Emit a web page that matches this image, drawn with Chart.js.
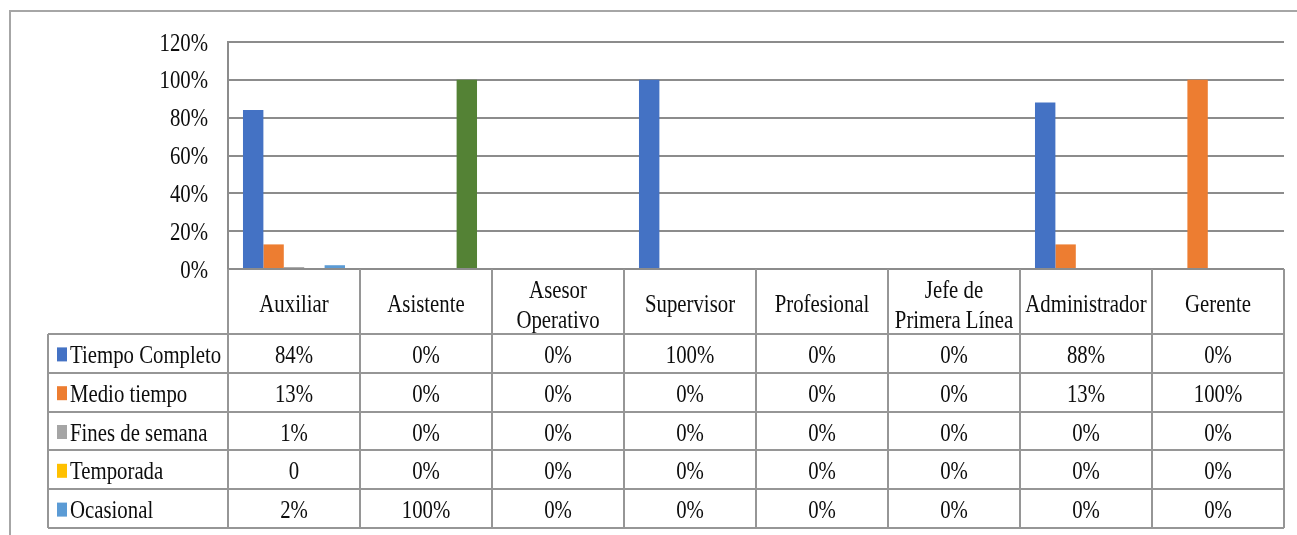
<!DOCTYPE html>
<html>
<head>
<meta charset="utf-8">
<script src="https://cdn.jsdelivr.net/npm/chart.js@4.4.1/dist/chart.umd.min.js"></script>
<style>
    html, body { margin: 0; padding: 0; background: #ffffff; }
    canvas { display: block; }
</style>
</head>
<body>
<canvas id="grafico" width="1297" height="535"></canvas>
<script>
// Cargos (categorías)
const cargos = ['Auxiliar', 'Asistente', ['Asesor', 'Operativo'], 'Supervisor', 'Profesional',
    ['Jefe de', 'Primera Línea'], 'Administrador', 'Gerente'];

// Series (%)
const tiempoCompleto = [84, 0, 0, 100, 0, 0, 88, 0];
const medioTiempo = [13, 0, 0, 0, 0, 0, 13, 100];
const finesSemana = [1, 0, 0, 0, 0, 0, 0, 0];
const temporada = [0, 0, 0, 0, 0, 0, 0, 0];
const ocasional = [2, 100, 0, 0, 0, 0, 0, 0];

const nombresSeries = ['Tiempo Completo', 'Medio tiempo', 'Fines de semana', 'Temporada', 'Ocasional'];
const coloresSeries = ['#4472C4', '#ED7D31', '#A5A5A5', '#FFC000', '#5B9BD5'];

// Ticks del eje Y
const ticksY = [0, 20, 40, 60, 80, 100, 120];

const FUENTE = '20.8px "Liberation Serif", "Times New Roman", serif';
const ESTIRAR = 1.2; // el texto del original está estirado verticalmente
const BAJAR = 2;     // pequeño ajuste vertical del texto

function textoEstirado(ctx, txt, x, y, align) {
    ctx.save();
    ctx.translate(x, y + BAJAR);
    ctx.scale(1, ESTIRAR);
    ctx.textAlign = align;
    ctx.textBaseline = 'middle';
    ctx.fillText(txt, 0, 0);
    ctx.restore();
}

function textoCelda(valor, serie, col) {
    // en el original la celda de Temporada / Auxiliar dice "0"
    if (serie === 3 && col === 0) return String(valor);
    return valor + '%';
}

// Plugin: marco, etiquetas del eje Y y tabla de datos
const tablaDatos = {
    id: 'tablaDatos',
    beforeDraw(chart) {
        const ctx = chart.ctx;
        ctx.save();
        ctx.fillStyle = '#ffffff';
        ctx.fillRect(0, 0, chart.width, chart.height);
        ctx.strokeStyle = '#a6a6a6';
        ctx.lineWidth = 2;
        ctx.beginPath();
        ctx.moveTo(10, chart.height);
        ctx.lineTo(10, 11);
        ctx.lineTo(chart.width, 11);
        ctx.stroke();
        ctx.restore();
    },
    afterDraw(chart) {
        const ctx = chart.ctx;
        const area = chart.chartArea;
        const x = chart.scales.x;
        const y = chart.scales.y;
        const n = cargos.length;
        const anchoCol = (area.right - area.left) / n;
        const altoCab = 65;
        const altoFila = 38.8;
        const izqLeyenda = 48;
        const yCab = area.bottom + altoCab;
        const yFin = yCab + altoFila * nombresSeries.length;

        ctx.save();
        ctx.font = FUENTE;
        ctx.fillStyle = '#0d0d0d';

        // etiquetas eje Y
        y.ticks.forEach(t => {
            textoEstirado(ctx, t.value + '%', 208, y.getPixelForValue(t.value), 'right');
        });

        // líneas de la tabla
        ctx.strokeStyle = '#969696';
        ctx.lineWidth = 2;
        ctx.beginPath();
        for (let i = 0; i <= n; i++) {
            const px = Math.round(area.left + i * anchoCol);
            ctx.moveTo(px, area.bottom);
            ctx.lineTo(px, yFin);
        }
        ctx.moveTo(izqLeyenda, yCab);
        ctx.lineTo(izqLeyenda, yFin);
        for (let r = 0; r <= nombresSeries.length; r++) {
            const py = Math.round(yCab + r * altoFila);
            ctx.moveTo(izqLeyenda, py);
            ctx.lineTo(area.right, py);
        }
        ctx.stroke();

        // cabecera: cargos
        cargos.forEach((c, i) => {
            const cx = x.getPixelForValue(i);
            if (Array.isArray(c)) {
                textoEstirado(ctx, c[0], cx, area.bottom + 20, 'center');
                textoEstirado(ctx, c[1], cx, area.bottom + 50, 'center');
            } else {
                textoEstirado(ctx, c, cx, area.bottom + 34, 'center');
            }
        });

        // filas
        chart.data.datasets.forEach((ds, s) => {
            const cy = yCab + s * altoFila + altoFila / 2 + 1;
            ctx.fillStyle = coloresSeries[s];
            ctx.fillRect(57, cy - 7, 10, 14);
            ctx.fillStyle = '#0d0d0d';
            textoEstirado(ctx, nombresSeries[s], 70, cy, 'left');
            ds.data.forEach((v, i) => {
                textoEstirado(ctx, textoCelda(v, s, i), x.getPixelForValue(i), cy, 'center');
            });
        });
        ctx.restore();
    }
};

const series = [tiempoCompleto, medioTiempo, finesSemana, temporada, ocasional];

new Chart(document.getElementById('grafico').getContext('2d'), {
    type: 'bar',
    data: {
        labels: cargos.map(c => Array.isArray(c) ? c.join(' ') : c),
        datasets: series.map((valores, s) => ({
            label: nombresSeries[s],
            data: valores,
            // la barra de Ocasional en Asistente aparece en verde en el original
            backgroundColor: s === 4 ? valores.map((v, i) => i === 1 ? '#548235' : coloresSeries[s]) : coloresSeries[s],
            borderWidth: 0,
            categoryPercentage: 0.773,
            barPercentage: 1.0
        }))
    },
    options: {
        responsive: false,
        animation: false,
        layout: {
            padding: { left: 228, right: 13, top: 42, bottom: 266 }
        },
        plugins: {
            legend: { display: false },
            tooltip: { enabled: false }
        },
        scales: {
            x: {
                grid: { display: false, drawTicks: false },
                border: { display: false },
                ticks: { display: false }
            },
            y: {
                min: 0,
                max: 120,
                afterBuildTicks: axis => { axis.ticks = ticksY.map(v => ({ value: v })); },
                grid: { color: '#8c8c8c', lineWidth: 2, drawTicks: false },
                border: { display: true, color: '#8c8c8c', width: 2 },
                ticks: { display: false }
            }
        }
    },
    plugins: [tablaDatos]
});
</script>
</body>
</html>
